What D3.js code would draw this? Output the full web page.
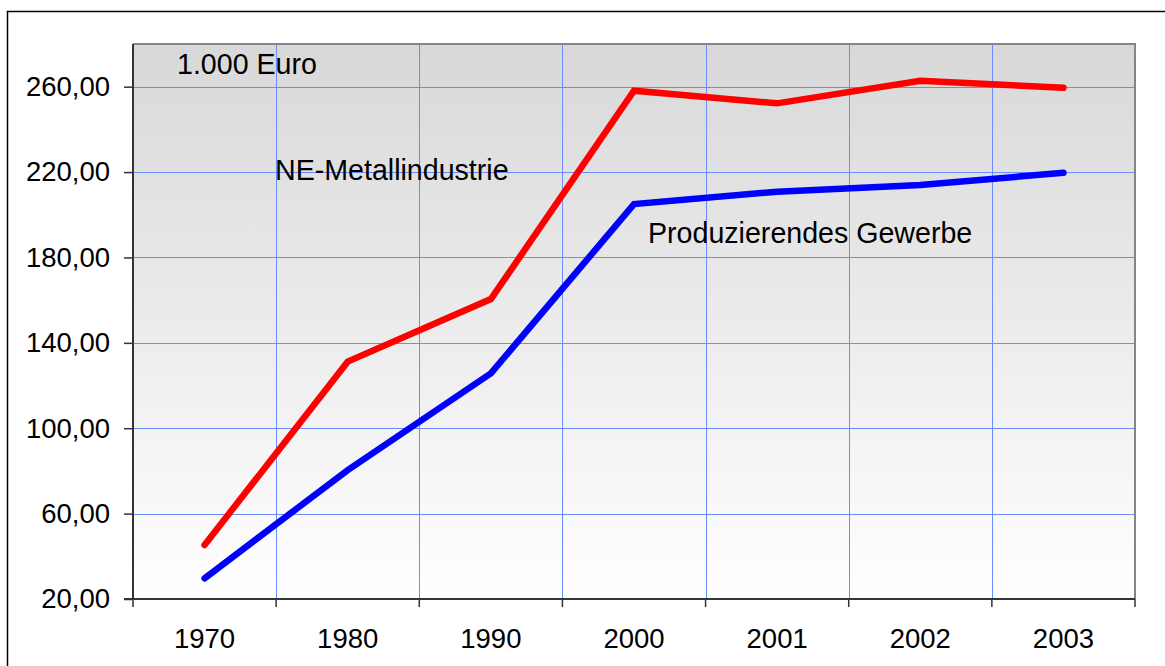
<!DOCTYPE html>
<html>
<head>
<meta charset="utf-8">
<script src="https://cdn.jsdelivr.net/npm/d3@7"></script>
<style>
  body { margin: 0; background: #fff; }
  svg { display: block; font-family: "Liberation Sans", Arial, sans-serif; }
  .tick text { fill: #000; font-size: 27.5px; }
  .grid line { stroke: #6b8cff; stroke-width: 1; }
  .note { font-size: 28.6px; fill: #000; }
</style>
</head>
<body>
<svg width="1165" height="666"></svg>
<script>
// data
var years = ['1970', '1980', '1990', '2000', '2001', '2002', '2003'];
var neMetall = [45.3, 131.2, 160.5, 258.1, 252.2, 262.8, 259.5];
var produzierend = [29.7, 80.4, 125.7, 205.0, 210.8, 213.9, 219.7];
var yTicks = [20, 60, 100, 140, 180, 220, 260];

var svg = d3.select('svg');
var margin = {top: 44, right: 30, bottom: 67, left: 133}
  , width = svg.attr('width') - margin.left - margin.right
  , height = svg.attr('height') - margin.top - margin.bottom;

// German number format: 260,00
var de = d3.formatLocale({decimal: ',', thousands: '.', grouping: [3], currency: ['', ' €']});
var fmt = de.format('.2f');

// outer frame (runs off the right / bottom edge)
svg.append('rect')
  .attr('x', 7.5).attr('y', 11.5)
  .attr('width', 1200).attr('height', 700)
  .attr('fill', 'none')
  .attr('stroke', '#000')
  .attr('stroke-width', 1.5);

var defs = svg.append('defs');
var grad = defs.append('linearGradient')
  .attr('id', 'bg').attr('x1', 0).attr('y1', 0).attr('x2', 0).attr('y2', 1);
grad.append('stop').attr('offset', '0%').attr('stop-color', '#d8d8d8');
grad.append('stop').attr('offset', '100%').attr('stop-color', '#ffffff');

var g = svg.append('g')
  .attr('transform', 'translate(' + margin.left + ',' + margin.top + ')');

var x = d3.scaleBand()
  .domain(years)
  .range([0, width])
  .padding(0);

var y = d3.scaleLinear()
  .domain([20, 280])
  .range([height, 0]);

g.append('rect')
  .attr('width', width).attr('height', height)
  .attr('fill', 'url(#bg)');

// gridlines
var grid = g.append('g').attr('class', 'grid');
grid.selectAll('.h')
  .data(yTicks.slice(1))
  .enter().append('line')
  .attr('x1', 0).attr('x2', width)
  .attr('y1', function(d) { return Math.round(y(d)) + 0.5; })
  .attr('y2', function(d) { return Math.round(y(d)) + 0.5; });
grid.selectAll('.v')
  .data(years.slice(1))
  .enter().append('line')
  .attr('y1', 0).attr('y2', height)
  .attr('x1', function(d) { return Math.round(x(d)) + 0.5; })
  .attr('x2', function(d) { return Math.round(x(d)) + 0.5; });

// frame: top and right grey
g.append('path')
  .attr('d', 'M0,0H' + width + 'V' + height)
  .attr('fill', 'none')
  .attr('stroke', '#858585')
  .attr('stroke-width', 2);

// y axis
var yAxis = g.append('g')
  .call(d3.axisLeft(y).tickValues(yTicks).tickSize(9).tickPadding(14).tickFormat(fmt));
yAxis.select('.domain').remove();
yAxis.selectAll('.tick line').attr('stroke', '#333').attr('stroke-width', 1.5);
g.append('line')
  .attr('x1', 0).attr('x2', 0).attr('y1', 0).attr('y2', height)
  .attr('stroke', '#333').attr('stroke-width', 2);

// x axis: labels centred, ticks on band edges
var xAxis = g.append('g')
  .attr('transform', 'translate(0,' + height + ')')
  .call(d3.axisBottom(x).tickSize(0).tickPadding(29));
xAxis.select('.domain').remove();
xAxis.selectAll('.edge')
  .data(years.concat(['end']))
  .enter().append('line')
  .attr('x1', function(d) { return d === 'end' ? width : x(d); })
  .attr('x2', function(d) { return d === 'end' ? width : x(d); })
  .attr('y1', 0).attr('y2', 8)
  .attr('stroke', '#333').attr('stroke-width', 1.5);
g.append('line')
  .attr('x1', -9).attr('x2', width).attr('y1', height).attr('y2', height)
  .attr('stroke', '#333').attr('stroke-width', 2);

var line = d3.line()
  .x(function(d, i) { return x(years[i]) + x.bandwidth() / 2; })
  .y(function(d) { return y(d); });

g.append('path')
  .datum(produzierend)
  .attr('d', line)
  .attr('fill', 'none')
  .attr('stroke', '#0000ff')
  .attr('stroke-width', 6.5)
  .attr('stroke-linecap', 'round');

g.append('path')
  .datum(neMetall)
  .attr('d', line)
  .attr('fill', 'none')
  .attr('stroke', '#ff0000')
  .attr('stroke-width', 6.5)
  .attr('stroke-linecap', 'round');

// annotations
svg.append('text').attr('class', 'note').attr('x', 177).attr('y', 74).text('1.000 Euro');
svg.append('text').attr('class', 'note').attr('x', 275).attr('y', 180).text('NE-Metallindustrie');
svg.append('text').attr('class', 'note').attr('x', 648).attr('y', 243).text('Produzierendes Gewerbe');
</script>
</body>
</html>
